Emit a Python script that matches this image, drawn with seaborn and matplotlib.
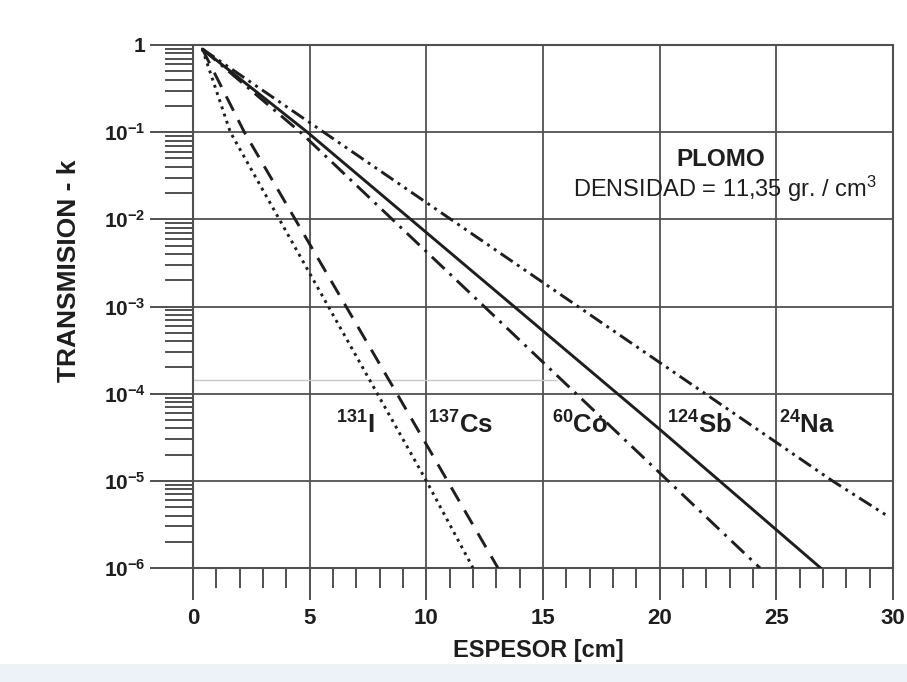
import matplotlib
matplotlib.use("Agg")
import matplotlib.pyplot as plt
import matplotlib.ticker as mticker
from matplotlib.patches import Rectangle
import numpy as np
import pandas as pd
import seaborn as sns

# ---------------- data ----------------
iso_I_x = [0.4, 1.6, 10.0, 12.0]
iso_I_y = [0.9, 0.1, 1e-5, 1e-6]
iso_Cs_x = [0.4, 2.2, 8.74, 13.07]
iso_Cs_y = [0.9, 0.1, 1e-4, 1e-6]
iso_Co_x = [0.4, 4.6, 24.3]
iso_Co_y = [0.9, 0.1, 1e-6]
iso_Sb_x = [0.4, 4.9, 20.0, 26.9]
iso_Sb_y = [0.9, 0.1, 3.9e-5, 1e-6]
iso_Na_x = [0.4, 27.4, 29.8]
iso_Na_y = [0.9, 1e-5, 3.9e-6]

isotopes = ["131I", "137Cs", "60Co", "124Sb", "24Na"]
iso_labels = [r"$\mathbf{^{131}I}$", r"$\mathbf{^{137}Cs}$", r"$\mathbf{^{60}Co}$",
              r"$\mathbf{^{124}Sb}$", r"$\mathbf{^{24}Na}$"]
label_x = [6.94, 11.45, 16.6, 21.7, 26.3]
label_y = 4.4e-5

x_ticks = [0, 5, 10, 15, 20, 25, 30]
y_ticks = [1e-6, 1e-5, 1e-4, 1e-3, 1e-2, 1e-1, 1]
y_ticklabels = [r"$\mathbf{10^{-6}}$", r"$\mathbf{10^{-5}}$", r"$\mathbf{10^{-4}}$",
                r"$\mathbf{10^{-3}}$", r"$\mathbf{10^{-2}}$", r"$\mathbf{10^{-1}}$",
                r"$\mathbf{1}$"]
faint_line_y = 1.45e-4
faint_line_xmax = 15.6

df = pd.concat([
    pd.DataFrame({"x": iso_I_x, "y": iso_I_y, "iso": "131I"}),
    pd.DataFrame({"x": iso_Cs_x, "y": iso_Cs_y, "iso": "137Cs"}),
    pd.DataFrame({"x": iso_Co_x, "y": iso_Co_y, "iso": "60Co"}),
    pd.DataFrame({"x": iso_Sb_x, "y": iso_Sb_y, "iso": "124Sb"}),
    pd.DataFrame({"x": iso_Na_x, "y": iso_Na_y, "iso": "24Na"}),
], ignore_index=True)

# ---------------- style ----------------
sns.set_style("white")
plt.rcParams["font.family"] = ["Liberation Sans", "DejaVu Sans"]
plt.rcParams["mathtext.fontset"] = "custom"
plt.rcParams["mathtext.rm"] = "Liberation Sans"
plt.rcParams["mathtext.bf"] = "Liberation Sans:bold"
plt.rcParams["mathtext.it"] = "Liberation Sans:italic"

INK = "#1e1e1e"
GRID = "#505050"

fig = plt.figure(figsize=(9.07, 6.82), dpi=100)
fig.patch.set_facecolor("white")
fig.patches.append(Rectangle((0, 0), 1, 18 / 682, transform=fig.transFigure,
                             facecolor="#edf1f8", edgecolor="none", zorder=0))

ax = fig.add_axes([193 / 907, 114 / 682, 700 / 907, 523 / 682])
ax.set_facecolor("white")

dash_map = {
    "131I": (1.0, 1.6),
    "137Cs": (5.5, 3.6),
    "60Co": (6.0, 2.4, 1.0, 2.4),
    "124Sb": "",
    "24Na": (5.0, 1.8, 1.0, 1.8, 1.0, 1.8),
}
sns.lineplot(data=df, x="x", y="y", style="iso", style_order=isotopes,
             dashes=dash_map, color=INK, lw=2.1, sort=False, estimator=None,
             legend=False, ax=ax, zorder=3)

ax.set_yscale("log")
ax.set_xlim(0, 30)
ax.set_ylim(1e-6, 1)

ax.axhline(faint_line_y, xmin=0, xmax=faint_line_xmax / 30, color="#c8c8c8",
           lw=1.0, zorder=1)

ax.set_xticks(x_ticks)
ax.set_xticklabels([str(v) for v in x_ticks])
ax.xaxis.set_minor_locator(mticker.MultipleLocator(1))
ax.set_yticks(y_ticks)
ax.set_yticklabels(y_ticklabels)
ax.yaxis.set_minor_locator(mticker.LogLocator(base=10, subs=np.arange(2, 10), numticks=20))
ax.yaxis.set_minor_formatter(mticker.NullFormatter())

ax.grid(which="major", color=GRID, lw=1.3, zorder=0)
for sp in ax.spines.values():
    sp.set_color(GRID)
    sp.set_linewidth(1.5)
    sp.set_visible(True)

ax.tick_params(which="both", bottom=True, left=True, top=False, right=False)
ax.tick_params(axis="y", which="major", direction="out", length=31, width=1.4,
               color=GRID, pad=3, labelsize=15, labelcolor=INK)
ax.tick_params(axis="y", which="minor", direction="out", length=20, width=1.4,
               color=GRID)
ax.tick_params(axis="x", which="major", direction="out", length=23, width=1.4,
               color=GRID, pad=6, labelsize=16, labelcolor=INK)
ax.tick_params(axis="x", which="minor", direction="out", length=14.5, width=1.4,
               color=GRID)
for lab in ax.get_xticklabels():
    lab.set_fontweight("bold")

ax.set_xlabel("ESPESOR [cm]", fontsize=17, fontweight="bold", color=INK)
ax.set_ylabel("TRANSMISION - k", fontsize=19, fontweight="bold", color=INK)
ax.xaxis.set_label_coords(0.493, -0.135)
ax.yaxis.set_label_coords(-0.160, 0.568)

for lab, lx in zip(iso_labels, label_x):
    ax.text(lx, label_y, lab, fontsize=18.5, ha="center", va="center", color=INK, zorder=4)

ax.text(22.6, 0.048, "PLOMO", fontsize=17.5, fontweight="bold", ha="center",
        va="center", color=INK, zorder=4)
ax.text(29.3, 0.0224, r"DENSIDAD = 11,35 gr. / cm$^3$", fontsize=17, ha="right",
        va="center", color=INK, zorder=4)

for ln in ax.lines:
    ln.set_dash_capstyle("butt")

fig.savefig("out.png", dpi=100, facecolor=fig.get_facecolor())
